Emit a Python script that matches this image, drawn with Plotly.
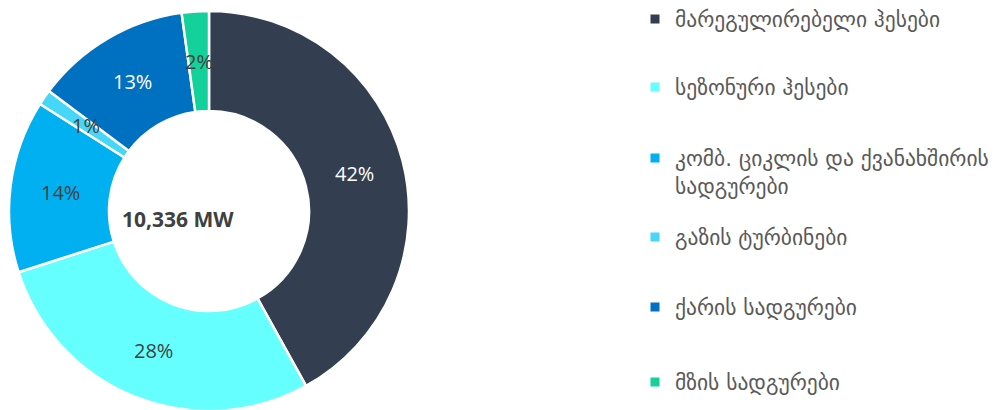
import numpy as np
import plotly.graph_objects as go

categories = [
    "მარეგულირებელი ჰესები",
    "სეზონური ჰესები",
    "კომბ. ციკლის და ქვანახშირის<br>სადგურები",
    "გაზის ტურბინები",
    "ქარის სადგურები",
    "მზის სადგურები",
]
values_mw = [4335, 2905, 1440, 130, 1300, 226]
colors = ["#333F50", "#66FFFF", "#00B0F0", "#45D6F8", "#0070C0", "#13D19B"]
label_colors = ["#FFFFFF", "#404040", "#404040", "#404040", "#FFFFFF", "#404040"]

W, H = 998, 410
OFF = 8  # page body margin of the browser
# pie geometry (page pixels): centre (209, 211), radius 200
PCX, PCY, PR = 209 - OFF, 211 - OFF, 200
dom_x = [(PCX - PR) / W, (PCX + PR) / W]
dom_y = [1 - (PCY + PR) / H, 1 - (PCY - PR) / H]
hole = 0.5

fig = go.Figure()
fig.add_trace(go.Pie(
    labels=categories,
    values=values_mw,
    marker=dict(colors=colors, line=dict(color="white", width=2.5)),
    hole=hole,
    sort=False,
    direction="clockwise",
    rotation=0,
    textinfo="none",
    showlegend=False,
    domain=dict(x=dom_x, y=dom_y),
    hoverinfo="label+value+percent",
))

# percentage labels placed at the middle of the ring, from the data
vals = np.array(values_mw, dtype=float)
total = vals.sum()
frac = vals / total
mid = np.cumsum(frac) - frac / 2
ang = mid * 2 * np.pi
cx = (dom_x[0] + dom_x[1]) / 2 * W
cy = (1 - (dom_y[0] + dom_y[1]) / 2) * H
R = (dom_y[1] - dom_y[0]) * H / 2
rmid = R * (1 + hole) / 2
for f, a, c in zip(frac, ang, label_colors):
    px = cx + rmid * np.sin(a)
    py = cy - rmid * np.cos(a)
    fig.add_annotation(
        x=px / W, y=1 - py / H, xref="paper", yref="paper",
        xanchor="center", yanchor="middle",
        text=f"{round(f * 100)}%", showarrow=False,
        font=dict(family="Open Sans", size=20, color=c),
    )

fig.add_annotation(
    x=(cx - 31) / W, y=1 - (cy + 8) / H, xref="paper", yref="paper",
    xanchor="center", yanchor="middle",
    text=f"<b>{int(total):,} MW</b>", showarrow=False,
    font=dict(family="Open Sans", size=21, color="#404040"),
)

# legend entries, one legend per entry so each sits where the reference has it
legend_rows_y = [19, 87, 172, 237, 307, 382]  # page pixels, centre of each entry
legend_names = ["legend"] + [f"legend{i}" for i in range(2, 7)]
layout_legends = {}
for i, (name, col) in enumerate(zip(categories, colors)):
    fig.add_trace(go.Scatter(
        x=[None], y=[None], mode="markers", name=name,
        marker=dict(symbol="square", size=9, color=col),
        legend=legend_names[i], showlegend=True, hoverinfo="skip",
    ))
    layout_legends[legend_names[i]] = dict(
        x=(676 - OFF - 41) / W, y=1 - (legend_rows_y[i] - OFF) / H,
        xanchor="left", yanchor="middle",
        font=dict(family="DejaVu Sans", size=21.5, color="#595959"),
        valign="top", bgcolor="rgba(0,0,0,0)",
    )

fig.update_layout(
    width=W, height=H,
    margin=dict(l=0, r=0, t=0, b=0, autoexpand=False),
    paper_bgcolor="white", plot_bgcolor="white",
    xaxis=dict(visible=False), yaxis=dict(visible=False),
    **layout_legends,
)

fig.write_html("out.html", config={"displayModeBar": False})
